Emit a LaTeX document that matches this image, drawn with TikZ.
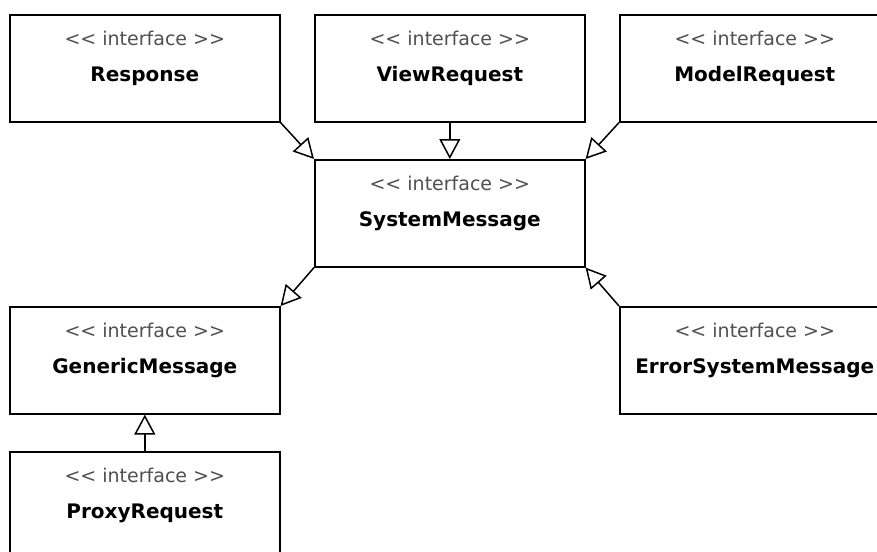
\documentclass[tikz,border=0pt]{standalone}
\usepackage{fontspec}
\setmainfont{DejaVu Sans}
\usetikzlibrary{arrows.meta}
\definecolor{stereo}{HTML}{505050}
\tikzset{
  iface/.style={draw=black, line width=1.6pt, fill=white, rectangle,
    minimum width=270pt, minimum height=107pt, anchor=north west, inner sep=0pt},
  stereotype/.style={text=stereo, font=\fontsize{19}{21}\selectfont, inner sep=0pt},
  ifname/.style={text=black, font=\fontsize{20}{22}\selectfont\bfseries, inner sep=0pt},
  realizes/.style={draw=black, line width=1.5pt,
    -{Triangle[open, length=20pt, width=21pt, fill=white]}}
}
\newcommand{\ifacebox}[3]{%
  \node[iface] (#1) at #2 {};
  \node[stereotype] (#1-st) at ([yshift=-24pt]#1.north) {{<}{<} interface {>}{>}};
  \node[ifname] (#1-nm) at ([yshift=-62pt]#1.north) {#3};
}
\begin{document}
\begin{tikzpicture}[x=1pt, y=-1pt]
  \useasboundingbox (0,0) rectangle (877,551);
  \fill[white] (0,0) rectangle (877,551);

  \ifacebox{resp}{(9,14)}{Response}
  \ifacebox{view}{(314,14)}{ViewRequest}
  \ifacebox{model}{(619,14)}{ModelRequest}
  \ifacebox{sys}{(314,159)}{SystemMessage}
  \ifacebox{gen}{(9,306)}{GenericMessage}
  \ifacebox{err}{(619,306)}{ErrorSystemMessage}
  \ifacebox{proxy}{(9,451)}{ProxyRequest}

  \draw[realizes] (resp.south east) -- (sys.north west);
  \draw[realizes] (view.south) -- (sys.north);
  \draw[realizes] (model.south west) -- (sys.north east);
  \draw[realizes] (sys.south west) -- (gen.north east);
  \draw[realizes] (err.north west) -- (sys.south east);
  \draw[realizes] (proxy.north) -- (gen.south);
\end{tikzpicture}
\end{document}
